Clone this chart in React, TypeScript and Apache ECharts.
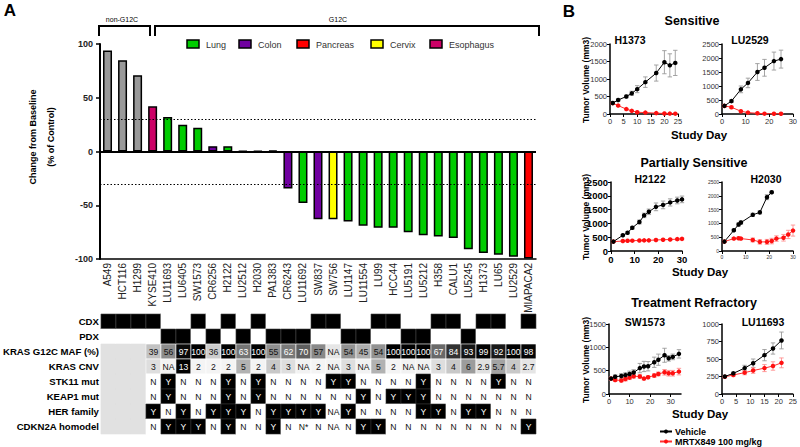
import React, { useEffect, useRef } from "react";
import * as echarts from "echarts";

const FONT = "'Liberation Sans', Arial, Helvetica, sans-serif";

// ---------- Panel A: waterfall ----------
const CELL_LINES = [
  "A549", "HCT116", "H1299", "KYSE410", "LU11693", "LU6405", "SW1573", "CR6256", "H2122", "LU2512",
  "H2030", "PA1383", "CR6243", "LU11692", "SW837", "SW756", "LU1147", "LU11554", "LU99", "HCC44",
  "LU5191", "LU5212", "H358", "CALU1", "LU5245", "H1373", "LU65", "LU2529", "MIAPACA2",
];
const CHANGE_PCT = [
  94, 85, 71, 42, 32, 25, 22, 5, 5, 0.6,
  0.6, 1, -34.5, -48, -63, -63, -65, -69, -71, -71,
  -75, -78, -79, -80.5, -91, -94.5, -96, -98, -99.5,
];
const TISSUE = [
  "none", "none", "none", "Esophagus", "Lung", "Lung", "Lung", "Colon", "Lung", "Lung",
  "Lung", "Pancreas", "Colon", "Lung", "Colon", "Cervix", "Lung", "Lung", "Lung", "Lung",
  "Lung", "Lung", "Lung", "Lung", "Lung", "Lung", "Lung", "Lung", "Pancreas",
];
const TISSUE_COLORS: Record<string, string> = {
  none: "#999999",
  Lung: "#00cc00",
  Colon: "#7000a0",
  Pancreas: "#ff0000",
  Cervix: "#ffff00",
  Esophagus: "#cc0066",
};
const LEGEND_TISSUES = ["Lung", "Colon", "Pancreas", "Cervix", "Esophagus"];
const Y_TICKS = { min: -100, max: 100, interval: 50 };
const THRESHOLDS = [30, -30];

// ---------- Panel A: annotation table ----------
const ROW_LABELS = ["CDX", "PDX", "KRAS G12C MAF (%)", "KRAS CNV", "STK11 mut", "KEAP1 mut", "HER family", "CDKN2A homodel"];
const CDX = [1, 1, 1, 1, 0, 0, 1, 0, 1, 0, 1, 0, 0, 0, 1, 1, 0, 0, 1, 1, 0, 0, 1, 1, 0, 1, 1, 0, 1];
const PDX = [0, 0, 0, 0, 1, 1, 0, 1, 0, 1, 0, 1, 1, 1, 0, 0, 1, 1, 0, 0, 1, 1, 0, 0, 1, 0, 0, 0, 0];
const MAF = [null, null, null, "39", "56", "97", "100", "36", "100", "63", "100", "55", "62", "70", "57", "NA", "54", "45", "54", "100", "100", "100", "67", "84", "93", "99", "92", "100", "98"];
const CNV = [null, null, null, "3", "NA", "13", "2", "2", "2", "5", "2", "4", "3", "NA", "2", "NA", "3", "NA", "5", "2", "NA", "NA", "3", "4", "6", "2.9", "5.7", "4", "2.7"];
const STK11 = [null, null, null, "N", "Y", "N", "N", "N", "Y", "N", "Y", "N", "N", "N", "N", "Y", "Y", "N", "N", "N", "N", "Y", "N", "N", "N", "N", "Y", "N", "N"];
const KEAP1 = [null, null, null, "N", "Y", "N", "N", "N", "Y", "N", "Y", "N", "N", "N", "N", "N", "N", "Y", "N", "Y", "Y", "Y", "N", "N", "N", "N", "N", "N", "N"];
const HER = [null, null, null, "Y", "N", "Y", "N", "Y", "Y", "Y", "N", "Y", "Y", "Y", "Y", "NA", "Y", "N", "N", "N", "N", "Y", "Y", "N", "Y", "Y", "N", "N", "N"];
const CDKN2A = [null, null, null, "N", "Y", "Y", "Y", "N", "Y", "N", "N", "Y", "N", "N*", "N", "NA", "N", "Y", "Y", "N", "N", "N", "N", "N", "N", "N", "N", "N", "Y"];

// ---------- Panel B: tumour growth ----------
const H1373_DAYS = [1, 3, 6, 8, 10, 13, 17, 20, 22, 24];
const H1373_VEHICLE = [314, 400, 500, 590, 710, 910, 1170, 1480, 1390, 1460];
const H1373_VEHICLE_SD = [20, 30, 40, 60, 100, 150, 230, 330, 330, 360];
const H1373_MRTX = [310, 240, 140, 90, 50, 40, 25, 15, 12, 10];
const H1373_MRTX_SD = [20, 20, 20, 15, 10, 10, 5, 5, 5, 5];

const LU2529_DAYS = [1, 4, 8, 11, 15, 18, 22, 25];
const LU2529_VEHICLE = [290, 460, 880, 1110, 1500, 1650, 1890, 1960];
const LU2529_VEHICLE_SD = [30, 50, 120, 170, 300, 300, 320, 320];
const LU2529_MRTX = [290, 240, 100, 50, 25, 12, 10, 10];
const LU2529_MRTX_SD = [40, 40, 20, 15, 10, 5, 5, 5];

const H2122_DAYS = [1, 5, 7, 9, 12, 14, 16, 19, 22, 25, 28, 30];
const H2122_VEHICLE = [340, 570, 660, 840, 1050, 1290, 1420, 1600, 1670, 1760, 1830, 1870];
const H2122_VEHICLE_SD = [20, 30, 40, 50, 70, 80, 100, 140, 140, 130, 120, 120];
const H2122_MRTX = [340, 360, 370, 375, 380, 385, 385, 400, 410, 415, 430, 440];
const H2122_MRTX_SD = [20, 20, 20, 20, 20, 20, 20, 25, 25, 30, 30, 35];

const H2030_DAYS = [1, 5, 7, 8, 13, 16, 19, 21, 23, 26, 28, 30];
const H2030_VEHICLE = [340, 750, 960, 1030, 1310, 1400, 1950, 2130, null, null, null, null];
const H2030_VEHICLE_SD = [20, 40, 60, 60, 60, 60, 90, 40, null, null, null, null];
const H2030_MRTX = [340, 450, 460, 450, 400, 330, 330, 360, 450, 480, 600, 740];
const H2030_MRTX_SD = [30, 40, 40, 40, 70, 80, 90, 100, 100, 120, 150, 200];

const SW1573_DAYS = [1, 3, 6, 8, 10, 12, 15, 17, 19, 22, 24, 27, 29, 31, 34];
const SW1573_VEHICLE = [330, 370, 385, 405, 430, 460, 555, 590, 595, 680, 735, 830, 765, 795, 860];
const SW1573_VEHICLE_SD = [30, 40, 50, 50, 60, 60, 100, 110, 100, 110, 120, 150, 60, 60, 90];
const SW1573_MRTX = [330, 300, 290, 320, 350, 380, 375, 330, 360, 395, 430, 465, 445, 445, 480];
const SW1573_MRTX_SD = [30, 30, 30, 40, 40, 40, 40, 30, 30, 40, 40, 60, 60, 60, 70];

const LU11693_DAYS = [1, 4, 8, 11, 15, 18, 21];
const LU11693_VEHICLE = [250, 295, 370, 440, 555, 650, 765];
const LU11693_VEHICLE_SD = [10, 20, 40, 60, 80, 80, 120];
const LU11693_MRTX = [245, 272, 305, 335, 370, 400, 445];
const LU11693_MRTX_SD = [10, 15, 30, 40, 50, 60, 70];

const SERIES_NAMES = ["Vehicle", "MRTX849 100 mg/kg"];

// ---------------------------------------------------------------------------

const SMALL_LABEL = { fontSize: 7.5, color: "#333", fontFamily: FONT };
const BOLD_LABEL = { fontSize: 9.5, color: "#000", fontWeight: "bold", fontFamily: FONT };
const TINY_LABEL = { fontSize: 5, color: "#333", fontFamily: FONT };

const PANELS = [
  { title: "H1373", tx: 630, ty: 40, grid: { left: 610, top: 44, width: 68, height: 70 }, days: H1373_DAYS, veh: H1373_VEHICLE, vehSd: H1373_VEHICLE_SD, mrtx: H1373_MRTX, mrtxSd: H1373_MRTX_SD, xMax: 25, xInt: 5, yMax: 2000, yInt: 500, label: SMALL_LABEL },
  { title: "LU2529", tx: 750, ty: 40, grid: { left: 722, top: 44, width: 71, height: 70 }, days: LU2529_DAYS, veh: LU2529_VEHICLE, vehSd: LU2529_VEHICLE_SD, mrtx: LU2529_MRTX, mrtxSd: LU2529_MRTX_SD, xMax: 30, xInt: 10, yMax: 2500, yInt: 500, label: SMALL_LABEL },
  { title: "H2122", tx: 650, ty: 179, grid: { left: 611, top: 182, width: 71, height: 69 }, days: H2122_DAYS, veh: H2122_VEHICLE, vehSd: H2122_VEHICLE_SD, mrtx: H2122_MRTX, mrtxSd: H2122_MRTX_SD, xMax: 30, xInt: 10, yMax: 2500, yInt: 500, label: BOLD_LABEL },
  { title: "H2030", tx: 766, ty: 179, grid: { left: 722, top: 182, width: 71, height: 69 }, days: H2030_DAYS, veh: H2030_VEHICLE, vehSd: H2030_VEHICLE_SD, mrtx: H2030_MRTX, mrtxSd: H2030_MRTX_SD, xMax: 30, xInt: 10, yMax: 2500, yInt: 500, label: TINY_LABEL },
  { title: "SW1573", tx: 645, ty: 322, grid: { left: 609, top: 324, width: 72, height: 70 }, days: SW1573_DAYS, veh: SW1573_VEHICLE, vehSd: SW1573_VEHICLE_SD, mrtx: SW1573_MRTX, mrtxSd: SW1573_MRTX_SD, xMax: 35, xInt: 10, yMax: 1500, yInt: 500, label: SMALL_LABEL },
  { title: "LU11693", tx: 763, ty: 322, grid: { left: 722, top: 324, width: 71, height: 70 }, days: LU11693_DAYS, veh: LU11693_VEHICLE, vehSd: LU11693_VEHICLE_SD, mrtx: LU11693_MRTX, mrtxSd: LU11693_MRTX_SD, xMax: 25, xInt: 5, yMax: 1000, yInt: 250, label: SMALL_LABEL },
];

function mafColor(v: number) {
  return Math.max(0, Math.min(235, Math.round(255 - (v - 20) * 3.2)));
}
function cnvColor(v: number) {
  return Math.max(0, Math.min(245, Math.round(255 - (v - 1.5) * 22)));
}
function grey(g: number) {
  const h = g.toString(16).padStart(2, "0");
  return "#" + h + h + h;
}

type Cell = { col: number; row: number; text: string; fill: string; color: string; border: string };

function buildCells(): Cell[] {
  const cells: Cell[] = [];
  CELL_LINES.forEach((_, c) => {
    cells.push({ col: c, row: 0, text: "", fill: CDX[c] ? "#000" : "#fff", color: "#000", border: CDX[c] ? "#444" : "#fff" });
    cells.push({ col: c, row: 1, text: "", fill: PDX[c] ? "#000" : "#fff", color: "#000", border: PDX[c] ? "#444" : "#fff" });
    const rows: (string | null)[][] = [MAF, CNV, STK11, KEAP1, HER, CDKN2A];
    rows.forEach((arr, i) => {
      const r = i + 2;
      const v = arr[c];
      if (v === null) {
        cells.push({ col: c, row: r, text: "", fill: "#e1e1e1", color: "#000", border: "#e1e1e1" });
        return;
      }
      if (i === 0 || i === 1) {
        if (v === "NA") {
          cells.push({ col: c, row: r, text: "NA", fill: i === 0 ? "#e6e6e6" : "#f2f2f2", color: "#111", border: "#fff" });
        } else {
          const g = i === 0 ? mafColor(parseFloat(v)) : cnvColor(parseFloat(v));
          cells.push({ col: c, row: r, text: v, fill: grey(g), color: g < 130 ? "#fff" : "#111", border: "#fff" });
        }
      } else {
        const yes = v === "Y";
        cells.push({ col: c, row: r, text: v, fill: yes ? "#000" : "#fff", color: yes ? "#fff" : "#111", border: yes ? "#333" : "#fff" });
      }
    });
  });
  return cells;
}

function errRender(color: string) {
  return (params: any, api: any) => {
    const x = api.value(0);
    const y = api.value(1);
    const e = api.value(2);
    if (y == null || isNaN(y) || isNaN(e)) return null;
    const top = api.coord([x, y + e]);
    const bot = api.coord([x, Math.max(0, y - e)]);
    const w = 2.2;
    const style = { stroke: color, lineWidth: 0.9 };
    return {
      type: "group",
      children: [
        { type: "line", shape: { x1: top[0], y1: top[1], x2: bot[0], y2: bot[1] }, style },
        { type: "line", shape: { x1: top[0] - w, y1: top[1], x2: top[0] + w, y2: top[1] }, style },
        { type: "line", shape: { x1: bot[0] - w, y1: bot[1], x2: bot[0] + w, y2: bot[1] }, style },
      ],
    };
  };
}

const plain = (v: number) => String(v);

function buildOption() {
  const cells = buildCells();
  const grids: any[] = [
    { left: 100, top: 44, width: 436, height: 215 },
    { left: 100, top: 314, width: 436, height: 120 },
  ];
  const xAxes: any[] = [
    {
      type: "category", gridIndex: 0, data: CELL_LINES,
      axisLine: { onZero: false, lineStyle: { color: "#000", width: 1.5 } },
      axisTick: { show: false },
      axisLabel: { rotate: 90, fontSize: 10, color: "#222", fontFamily: FONT, margin: 4, interval: 0 },
    },
    { type: "category", gridIndex: 1, data: CELL_LINES, show: false },
  ];
  const yAxes: any[] = [
    {
      type: "value", gridIndex: 0, min: Y_TICKS.min, max: Y_TICKS.max, interval: Y_TICKS.interval,
      axisLine: { show: true, lineStyle: { color: "#000", width: 2 } },
      axisTick: { show: true, length: 4, lineStyle: { color: "#000", width: 1.5 } },
      axisLabel: { fontSize: 9, fontWeight: "bold", color: "#222", fontFamily: FONT, margin: 7, formatter: plain },
      splitLine: { show: false },
    },
    {
      type: "category", gridIndex: 1, data: ROW_LABELS, inverse: true,
      axisLine: { show: false }, axisTick: { show: false },
      axisLabel: { fontSize: 9.6, fontWeight: "bold", color: "#000", fontFamily: FONT, margin: 2 },
    },
  ];
  const series: any[] = [
    {
      type: "bar", name: "change", xAxisIndex: 0, yAxisIndex: 0, barWidth: 9,
      data: CHANGE_PCT.map((v, i) => ({ value: v, itemStyle: { color: TISSUE_COLORS[TISSUE[i]] } })),
      itemStyle: { borderColor: "#000", borderWidth: 1.5 },
      markLine: {
        silent: true, symbol: "none", label: { show: false },
        data: [
          ...THRESHOLDS.map((t) => ({ yAxis: t, lineStyle: { type: [1.5, 2], color: "#000", width: 1.2 } })),
          { yAxis: 0, lineStyle: { type: "solid", color: "#000", width: 1.8 } },
        ],
      },
      z: 3,
    },
    {
      type: "custom", name: "table", xAxisIndex: 1, yAxisIndex: 1,
      data: cells.map((c) => [c.col, c.row]),
      encode: { x: 0, y: 1 },
      renderItem: (params: any, api: any) => {
        const c = cells[params.dataIndex];
        const p = api.coord([c.col, c.row]);
        const s = api.size([1, 1]);
        const children: any[] = [
          { type: "rect", shape: { x: p[0] - s[0] / 2, y: p[1] - s[1] / 2, width: s[0], height: s[1] }, style: { fill: c.fill, stroke: c.border, lineWidth: 0.6 } },
        ];
        if (c.text) {
          children.push({ type: "text", style: { text: c.text, x: p[0], y: p[1] + 0.5, align: "center", verticalAlign: "middle", fill: c.color, fontSize: 8.6, fontFamily: FONT } });
        }
        return { type: "group", children };
      },
    },
  ];

  PANELS.forEach((p, i) => {
    const gi = i + 2;
    grids.push(p.grid);
    xAxes.push({
      type: "value", gridIndex: gi, min: 0, max: p.xMax, interval: p.xInt,
      axisLine: { show: true, lineStyle: { color: "#000", width: 1.5 } },
      axisTick: { show: true, length: 3, lineStyle: { color: "#000", width: 1 } },
      axisLabel: { ...p.label, margin: 3, showMaxLabel: p.xMax % p.xInt === 0, formatter: plain },
      splitLine: { show: false },
    });
    yAxes.push({
      type: "value", gridIndex: gi, min: 0, max: p.yMax, interval: p.yInt,
      axisLine: { show: true, lineStyle: { color: "#000", width: 1.5 } },
      axisTick: { show: true, length: 3, lineStyle: { color: "#000", width: 1 } },
      axisLabel: { ...p.label, margin: 3, formatter: plain },
      splitLine: { show: false },
    });
    const vehPts = p.days.map((d, k) => [d, p.veh[k], p.vehSd[k]]).filter((r) => r[1] != null);
    const mrtxPts = p.days.map((d, k) => [d, p.mrtx[k], p.mrtxSd[k]]).filter((r) => r[1] != null);
    series.push(
      { type: "custom", xAxisIndex: gi, yAxisIndex: gi, data: vehPts, encode: { x: 0, y: 1 }, renderItem: errRender("#9a9a9a"), z: 1, silent: true },
      { type: "custom", xAxisIndex: gi, yAxisIndex: gi, data: mrtxPts, encode: { x: 0, y: 1 }, renderItem: errRender("#ff9090"), z: 1, silent: true },
      {
        type: "line", name: SERIES_NAMES[0], xAxisIndex: gi, yAxisIndex: gi,
        data: vehPts.map((r) => [r[0], r[1]]), symbol: "circle", symbolSize: 4.5,
        itemStyle: { color: "#000" }, lineStyle: { color: "#000", width: 1 }, z: 3,
      },
      {
        type: "line", name: SERIES_NAMES[1], xAxisIndex: gi, yAxisIndex: gi,
        data: mrtxPts.map((r) => [r[0], r[1]]), symbol: "circle", symbolSize: 4.5,
        itemStyle: { color: "#ff1010" }, lineStyle: { color: "#ff3030", width: 1 }, z: 2,
      }
    );
  });

  const txt = (text: string, x: number, y: number, size: number, bold = true, extra: any = {}) => ({
    type: "text", x, y, ...extra,
    style: { text, fontSize: size, fontWeight: bold ? "bold" : "normal", fill: "#000", fontFamily: FONT, align: "center", verticalAlign: "middle" },
  });

  const legendX = [187, 239, 297, 371, 430];
  const graphics: any[] = [
    txt("A", 10, 10, 17),
    txt("B", 569, 11, 17),
    { type: "polyline", shape: { points: [[99, 36], [99, 26], [150, 26], [150, 36]] }, style: { stroke: "#000", lineWidth: 2, fill: "none" } },
    { type: "polyline", shape: { points: [[155, 36], [155, 26], [539, 26], [539, 36]] }, style: { stroke: "#000", lineWidth: 2, fill: "none" } },
    txt("non-G12C", 122, 19, 7, false),
    txt("G12C", 338, 19, 7, false),
    txt("Change from Baseline", 33, 137, 9, true, { rotation: Math.PI / 2 }),
    txt("(% of Control)", 51, 137, 9, true, { rotation: Math.PI / 2 }),
    ...LEGEND_TISSUES.flatMap((t, i) => [
      { type: "rect", shape: { x: legendX[i], y: 40, width: 12, height: 8 }, style: { fill: TISSUE_COLORS[t], stroke: "#000", lineWidth: 1.5 } },
      { type: "text", x: legendX[i] + 19, y: 44.5, style: { text: t, fontSize: 9, fill: "#333", fontFamily: FONT, align: "left", verticalAlign: "middle" } },
    ]),
    txt("Sensitive", 692, 21, 12.5),
    txt("Partially Sensitive", 694, 163, 12.5),
    txt("Treatment Refractory", 694, 303, 12.5),
    ...PANELS.map((p) => txt(p.title, p.tx, p.ty, 10.5)),
    txt("Study Day", 699, 135, 11.5),
    txt("Study Day", 700, 272, 11.5),
    txt("Study Day", 700, 414, 11.5),
    txt("Tumor Volume (mm3)", 586, 80, 8.5, true, { rotation: Math.PI / 2 }),
    txt("Tumor Volume (mm3)", 586, 217, 8.5, true, { rotation: Math.PI / 2 }),
    txt("Tumor Volume (mm3)", 586, 360, 8.5, true, { rotation: Math.PI / 2 }),
  ];

  return {
    animation: false,
    textStyle: { fontFamily: FONT },
    grid: grids,
    xAxis: xAxes,
    yAxis: yAxes,
    series,
    legend: {
      data: SERIES_NAMES, orient: "vertical", left: 659, top: 427, itemWidth: 12, itemHeight: 5, itemGap: 1,
      textStyle: { fontSize: 9, fontWeight: "bold", color: "#000", fontFamily: FONT, padding: [0, 0, 0, -2] },
      padding: 0,
    },
    graphic: graphics,
  };
}

export default function App() {
  const ref = useRef<HTMLDivElement>(null);
  useEffect(() => {
    if (!ref.current) return;
    const chart = echarts.init(ref.current, null, { renderer: "svg" });
    chart.setOption(buildOption() as any);
    return () => chart.dispose();
  }, []);
  return (
    <div
      ref={ref}
      style={{ position: "absolute", left: 0, top: 0, width: 800, height: 447, background: "#fff" }}
    />
  );
}
